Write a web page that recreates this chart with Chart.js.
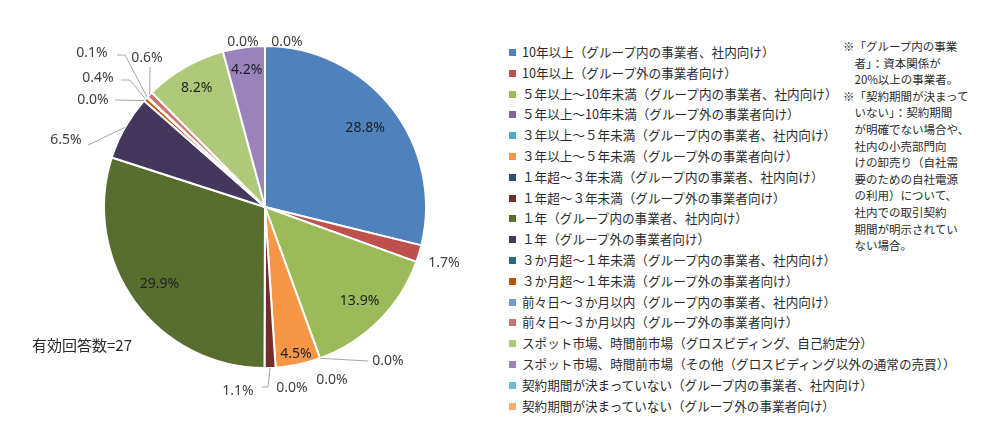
<!DOCTYPE html>
<html lang="ja">
<head>
<meta charset="utf-8">
<script src="https://cdn.jsdelivr.net/npm/chart.js@4"></script>
<style>
  body { margin: 0; background: #fff; }
  #wrap { position: relative; width: 1000px; height: 427px; overflow: hidden; font-family: "Noto Sans CJK JP", sans-serif; color: #2b2b2b; }
  #chartBox { position: absolute; left: 0; top: 0; width: 500px; height: 427px; }
  #legend { position: absolute; left: 509px; top: 42px; font-size: 12.6px; }
  #legend div { height: 20.8px; line-height: 20.8px; white-space: nowrap; }
  #legend span.sw { display: inline-block; width: 7px; height: 7px; margin-right: 6px; vertical-align: 1px; }
  #note { position: absolute; left: 843px; top: 38px; font-size: 11.5px; line-height: 16.6px; white-space: pre; }
  #count { position: absolute; left: 32px; top: 334px; font-size: 15px; }
</style>
</head>
<body>
<div id="wrap">
  <div id="chartBox"><canvas id="pieChart"></canvas></div>
  <div id="legend"></div>
  <div id="note"></div>
  <div id="count">有効回答数=27</div>
</div>
<script>
const labels = [
  '10年以上（グループ内の事業者、社内向け）',
  '10年以上（グループ外の事業者向け）',
  '５年以上～10年未満（グループ内の事業者、社内向け）',
  '５年以上～10年未満（グループ外の事業者向け）',
  '３年以上～５年未満（グループ内の事業者、社内向け）',
  '３年以上～５年未満（グループ外の事業者向け）',
  '１年超～３年未満（グループ内の事業者、社内向け）',
  '１年超～３年未満（グループ外の事業者向け）',
  '１年（グループ内の事業者、社内向け）',
  '１年（グループ外の事業者向け）',
  '３か月超～１年未満（グループ内の事業者、社内向け）',
  '３か月超～１年未満（グループ外の事業者向け）',
  '前々日～３か月以内（グループ内の事業者、社内向け）',
  '前々日～３か月以内（グループ外の事業者向け）',
  'スポット市場、時間前市場（グロスビディング、自己約定分）',
  'スポット市場、時間前市場（その他（グロスビディング以外の通常の売買））',
  '契約期間が決まっていない（グループ内の事業者、社内向け）',
  '契約期間が決まっていない（グループ外の事業者向け）'
];
const values = [28.8, 1.7, 13.9, 0.0, 0.0, 4.5, 0.0, 1.1, 29.9, 6.5, 0.0, 0.4, 0.1, 0.6, 8.2, 4.2, 0.0, 0.0];
const colors = [
  '#4F81BD', '#C0504D', '#9BBB59', '#8064A2', '#4BACC6', '#F79646',
  '#2C4D75', '#772C2A', '#586E2F', '#45365C', '#276A7C', '#B65708',
  '#729ACA', '#CD7371', '#AFC97A', '#9983BA', '#6FBDD1', '#F9AB6B'
];
const noteText = '※「グループ内の事業\n　者」：資本関係が\n　20%以上の事業者。\n※「契約期間が決まって\n　いない」：契約期間\n　が明確でない場合や、\n　社内の小売部門向\n　けの卸売り（自社需\n　要のための自社電源\n　の利用）について、\n　社内での取引契約\n　期間が明示されてい\n　ない場合。';

// label placement: r = inside (fraction of radius), otherwise offset from centre + leader points
const labelPlace = [
  { r: 0.79 },
  { dx: 179, dy: 56 },
  { r: 0.83 },
  { dx: 123, dy: 154, line: [[103, 154]] },
  { dx: 67, dy: 173 },
  { r: 0.93 },
  { dx: 27, dy: 181 },
  { dx: -27, dy: 184, line: [[3, 180], [-3, 180]] },
  { r: 0.81 },
  { dx: -199, dy: -67, line: [[-177, -62]] },
  { dx: -172, dy: -107, line: [[-150, -107]] },
  { dx: -167, dy: -129, line: [[-135, -127], [-144, -127]] },
  { dx: -173, dy: -154, line: [[-140, -152], [-148, -152]] },
  { dx: -118, dy: -149, line: [[-115, -140]] },
  { r: 0.85 },
  { r: 0.86 },
  { dx: -22, dy: -165 },
  { dx: 22, dy: -165 }
];

const legendEl = document.getElementById('legend');
labels.forEach((t, i) => {
  const row = document.createElement('div');
  row.innerHTML = '<span class="sw" style="background:' + colors[i] + '"></span>' + t;
  legendEl.appendChild(row);
});
document.getElementById('note').textContent = noteText;

const sliceLabels = {
  id: 'sliceLabels',
  afterDatasetsDraw(chart) {
    const ctx = chart.ctx;
    const meta = chart.getDatasetMeta(0);
    ctx.save();
    ctx.font = '14px "Noto Sans", sans-serif';
    ctx.textAlign = 'center';
    ctx.textBaseline = 'middle';
    meta.data.forEach((arc, i) => {
      const p = arc.getProps(['x', 'y', 'startAngle', 'endAngle', 'outerRadius'], true);
      const mid = (p.startAngle + p.endAngle) / 2;
      const txt = values[i].toFixed(1) + '%';
      const lp = labelPlace[i];
      if (lp.r) {
        ctx.fillStyle = '#1f1f1f';
        ctx.fillText(txt, p.x + Math.cos(mid) * p.outerRadius * lp.r, p.y + Math.sin(mid) * p.outerRadius * lp.r);
        return;
      }
      if (lp.line) {
        ctx.strokeStyle = '#A6A6A6';
        ctx.lineWidth = 1;
        ctx.beginPath();
        ctx.moveTo(p.x + Math.cos(mid) * p.outerRadius, p.y + Math.sin(mid) * p.outerRadius);
        lp.line.forEach(pt => ctx.lineTo(p.x + pt[0], p.y + pt[1]));
        ctx.stroke();
      }
      ctx.fillStyle = '#404040';
      ctx.fillText(txt, p.x + lp.dx, p.y + lp.dy);
    });
    ctx.restore();
  }
};

const ctx = document.getElementById('pieChart').getContext('2d');
const pieChart = new Chart(ctx, {
  type: 'pie',
  data: {
    labels: labels,
    datasets: [{
      data: values,
      backgroundColor: colors,
      borderColor: '#ffffff',
      borderWidth: 2
    }]
  },
  options: {
    responsive: true,
    maintainAspectRatio: false,
    animation: false,
    layout: { padding: { left: 30, right: 0, top: 45, bottom: 58 } },
    plugins: {
      legend: { display: false },
      tooltip: { enabled: false }
    }
  },
  plugins: [sliceLabels]
});
</script>
</body>
</html>
